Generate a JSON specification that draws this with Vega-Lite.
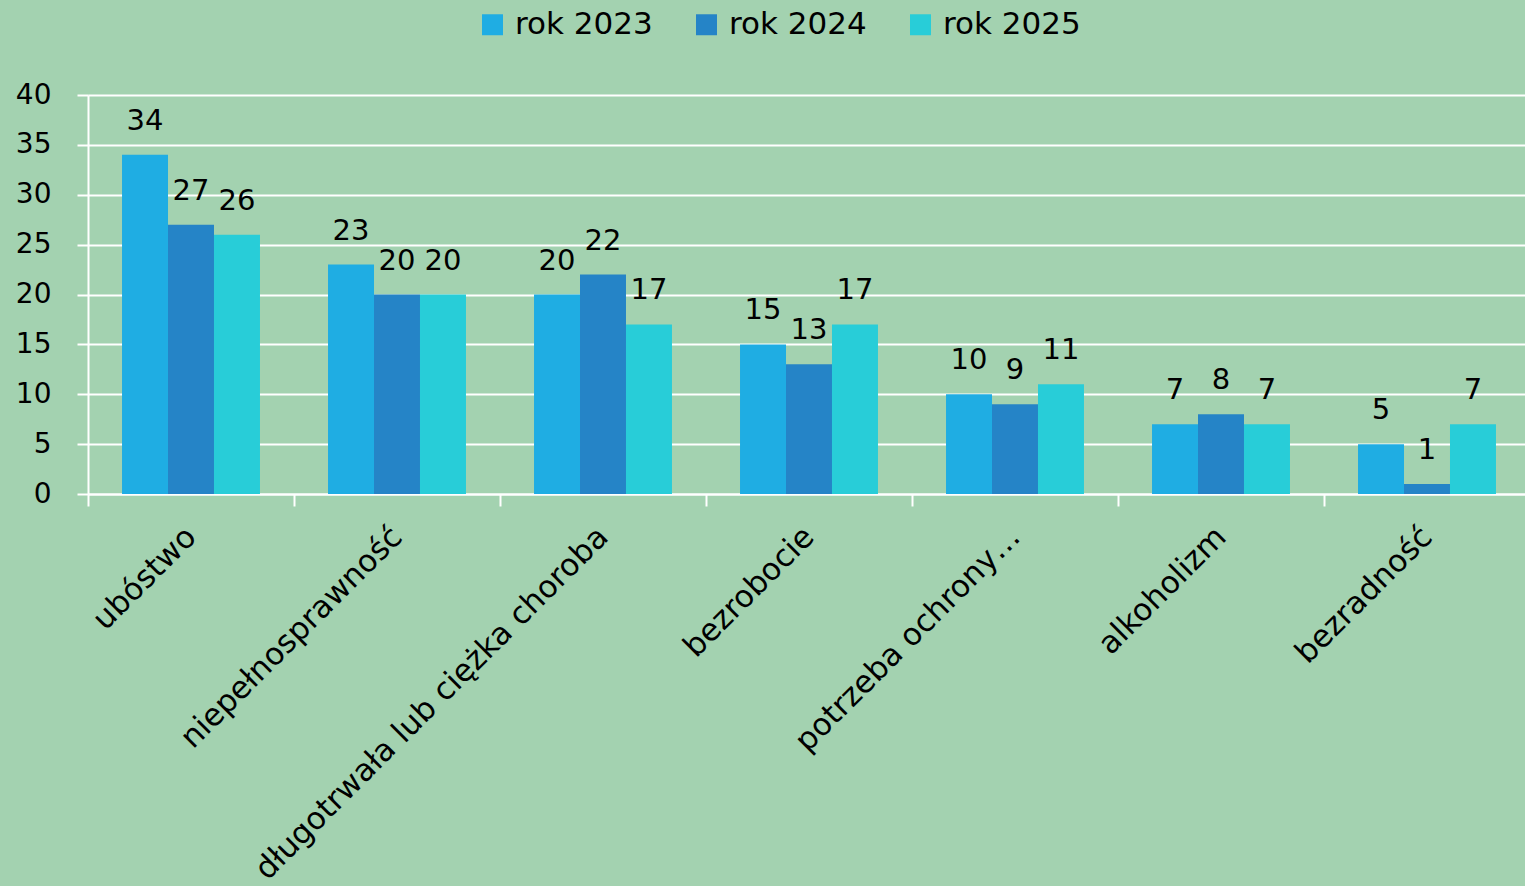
{
  "$schema": "https://vega.github.io/schema/vega-lite/v6.json",
  "autosize": "none",
  "width": 1442,
  "height": 399,
  "padding": {"left": 88, "top": 95, "right": 0, "bottom": 392},
  "background": "#a3d2b0",
  "config": {
    "view": {"stroke": null},
    "font": "DejaVu Sans"
  },
  "data": {
    "values": [
      {"kategoria": "ubóstwo", "rok": "rok 2023", "wartosc": 34},
      {"kategoria": "ubóstwo", "rok": "rok 2024", "wartosc": 27},
      {"kategoria": "ubóstwo", "rok": "rok 2025", "wartosc": 26},
      {"kategoria": "niepełnosprawność", "rok": "rok 2023", "wartosc": 23},
      {"kategoria": "niepełnosprawność", "rok": "rok 2024", "wartosc": 20},
      {"kategoria": "niepełnosprawność", "rok": "rok 2025", "wartosc": 20},
      {"kategoria": "długotrwała lub ciężka choroba", "rok": "rok 2023", "wartosc": 20},
      {"kategoria": "długotrwała lub ciężka choroba", "rok": "rok 2024", "wartosc": 22},
      {"kategoria": "długotrwała lub ciężka choroba", "rok": "rok 2025", "wartosc": 17},
      {"kategoria": "bezrobocie", "rok": "rok 2023", "wartosc": 15},
      {"kategoria": "bezrobocie", "rok": "rok 2024", "wartosc": 13},
      {"kategoria": "bezrobocie", "rok": "rok 2025", "wartosc": 17},
      {"kategoria": "potrzeba ochrony…", "rok": "rok 2023", "wartosc": 10},
      {"kategoria": "potrzeba ochrony…", "rok": "rok 2024", "wartosc": 9},
      {"kategoria": "potrzeba ochrony…", "rok": "rok 2025", "wartosc": 11},
      {"kategoria": "alkoholizm", "rok": "rok 2023", "wartosc": 7},
      {"kategoria": "alkoholizm", "rok": "rok 2024", "wartosc": 8},
      {"kategoria": "alkoholizm", "rok": "rok 2025", "wartosc": 7},
      {"kategoria": "bezradność", "rok": "rok 2023", "wartosc": 5},
      {"kategoria": "bezradność", "rok": "rok 2024", "wartosc": 1},
      {"kategoria": "bezradność", "rok": "rok 2025", "wartosc": 7}
    ]
  },
  "encoding": {
    "x": {
      "field": "kategoria",
      "type": "nominal",
      "sort": null,
      "title": null,
      "scale": {"paddingInner": 0, "paddingOuter": 0},
      "axis": {
        "labelAngle": -45,
        "labelAlign": "right",
        "labelBaseline": "middle",
        "labelFontSize": 31,
        "labelColor": "#000000",
        "labelPadding": 26,
        "labelLimit": 700,
        "domainColor": "#ffffff",
        "domainWidth": 2,
        "tickColor": "#ffffff",
        "tickWidth": 2,
        "tickSize": 12,
        "tickBand": "extent",
        "grid": false
      }
    },
    "xOffset": {
      "field": "rok",
      "type": "nominal",
      "scale": {"paddingInner": 0, "paddingOuter": 0.74}
    },
    "y": {
      "field": "wartosc",
      "type": "quantitative",
      "title": null,
      "scale": {"domain": [0, 40], "nice": false},
      "axis": {
        "values": [0, 5, 10, 15, 20, 25, 30, 35, 40],
        "labelFontSize": 28,
        "labelColor": "#000000",
        "labelPadding": 26,
        "domainColor": "#ffffff",
        "domainWidth": 2,
        "tickColor": "#ffffff",
        "tickWidth": 2,
        "tickSize": 11,
        "gridColor": "#ffffff",
        "gridWidth": 2,
        "gridOpacity": 1
      }
    }
  },
  "layer": [
    {
      "mark": {"type": "bar"},
      "encoding": {
        "color": {
          "field": "rok",
          "type": "nominal",
          "title": null,
          "scale": {
            "domain": ["rok 2023", "rok 2024", "rok 2025"],
            "range": ["#1fade3", "#2584c7", "#28cdd8"]
          },
          "legend": {
            "orient": "none",
            "direction": "horizontal",
            "legendX": 389,
            "legendY": -86,
            "symbolType": "square",
            "symbolSize": 440,
            "symbolOpacity": 1,
            "symbolStrokeWidth": 0,
            "labelFontSize": 31,
            "labelColor": "#000000",
            "labelOffset": 7,
            "columnPadding": 38,
            "labelLimit": 300
          }
        }
      }
    },
    {
      "mark": {"type": "text", "baseline": "alphabetic", "dy": -25, "fontSize": 29, "color": "#000000"},
      "encoding": {
        "text": {"field": "wartosc", "type": "quantitative"}
      }
    }
  ]
}
